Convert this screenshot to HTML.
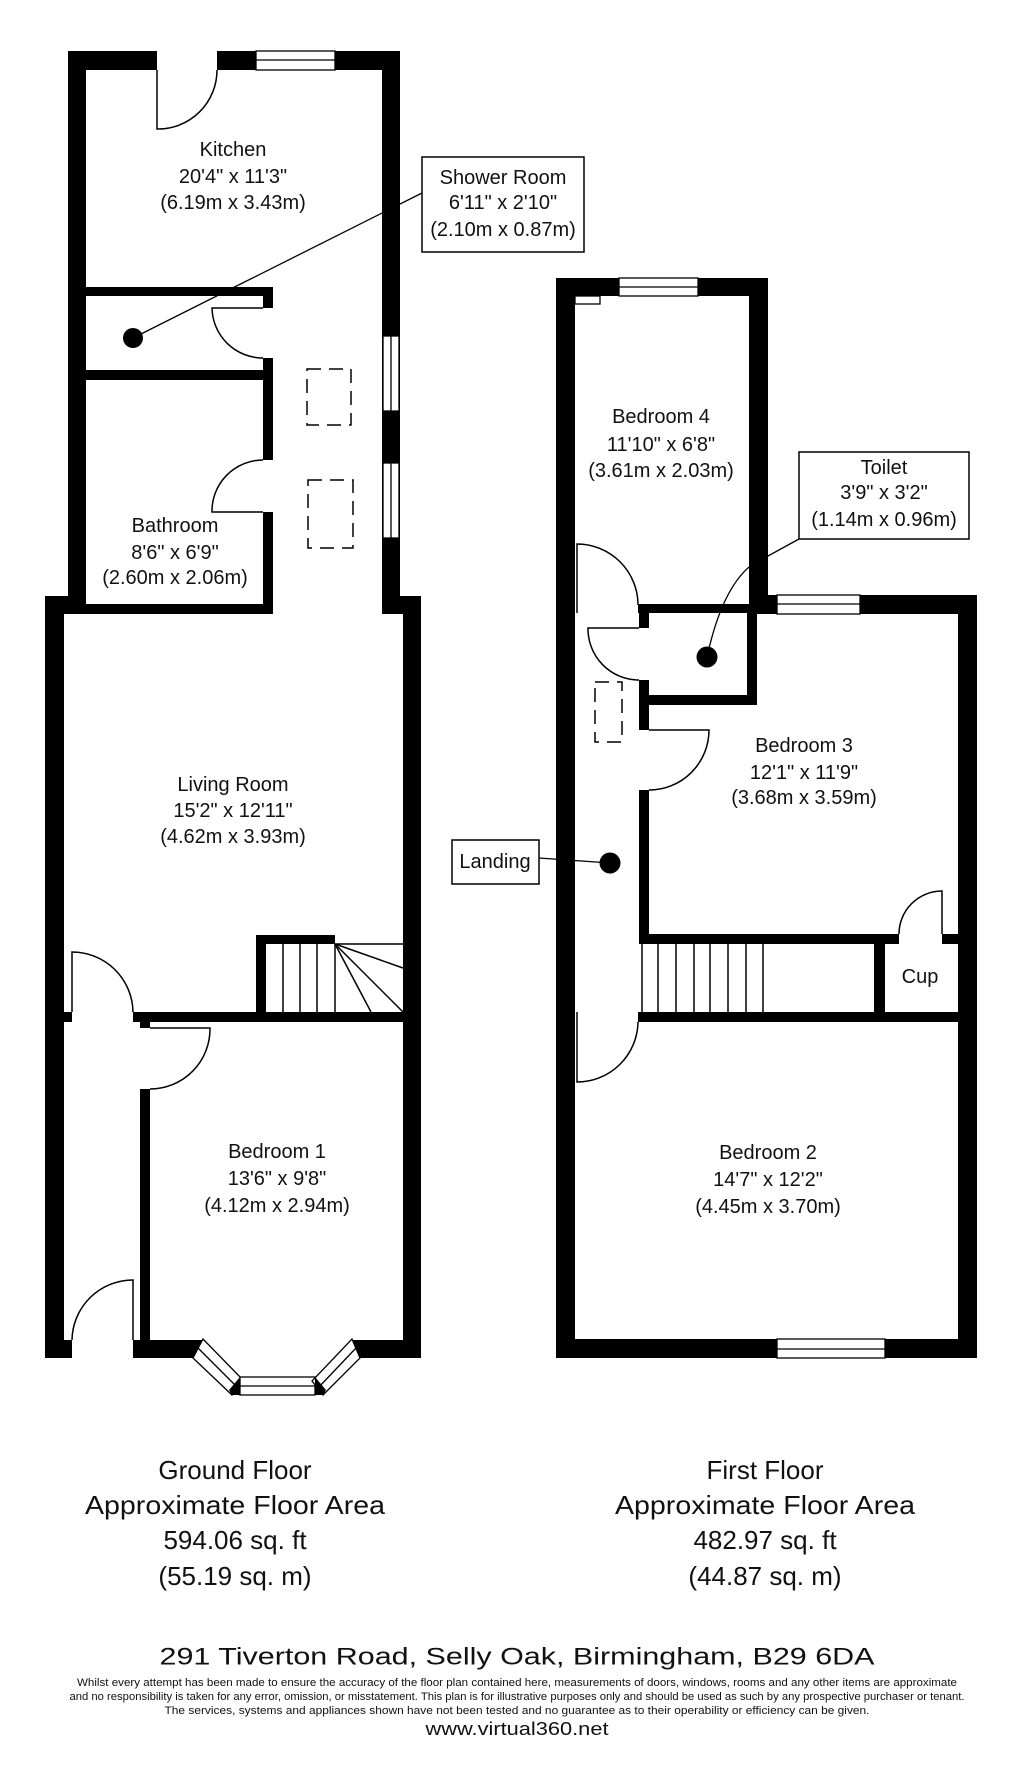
<!DOCTYPE html>
<html><head><meta charset="utf-8"><style>
html,body{margin:0;padding:0;background:#fff;}
svg{display:block;}
text{font-family:"Liberation Sans",Arial,sans-serif;fill:#111;}
</style></head><body>
<svg width="1024" height="1788" viewBox="0 0 1024 1788" xmlns="http://www.w3.org/2000/svg">
<rect width="1024" height="1788" fill="#fff"/>
<g fill="#000">
<!-- Ground floor walls -->
<rect x="68" y="51" width="89" height="19"/>
<rect x="217" y="51" width="183" height="19"/>
<rect x="68" y="51" width="18" height="563"/>
<rect x="382" y="51" width="18" height="563"/>
<rect x="86" y="287" width="187" height="9"/>
<rect x="263" y="287" width="10" height="21"/>
<rect x="263" y="358" width="10" height="102"/>
<rect x="86" y="370" width="187" height="10"/>
<rect x="263" y="512" width="10" height="102"/>
<rect x="68" y="604" width="205" height="10"/>
<rect x="45" y="596" width="41" height="18"/>
<rect x="382" y="596" width="39" height="18"/>
<rect x="45" y="596" width="19" height="762"/>
<rect x="403" y="596" width="18" height="762"/>
<rect x="64" y="1012" width="8" height="10"/>
<rect x="133" y="1012" width="270" height="10"/>
<rect x="256" y="935" width="79" height="9"/>
<rect x="256" y="935" width="10" height="77"/>
<rect x="140" y="1022" width="10" height="6"/>
<rect x="140" y="1089" width="10" height="269"/>
<rect x="45" y="1340" width="27" height="18"/>
<rect x="133" y="1340" width="70" height="18"/>
<rect x="352" y="1340" width="69" height="18"/>
<!-- First floor walls -->
<rect x="556" y="278" width="19" height="1080"/>
<rect x="556" y="278" width="63" height="18"/>
<rect x="698" y="278" width="70" height="18"/>
<rect x="749" y="278" width="19" height="336"/>
<rect x="638" y="604" width="119" height="9"/>
<rect x="639" y="604" width="10" height="24"/>
<rect x="639" y="680" width="10" height="50"/>
<rect x="639" y="790" width="10" height="154"/>
<rect x="639" y="695" width="118" height="10"/>
<rect x="747" y="604" width="10" height="101"/>
<rect x="749" y="595" width="28" height="19"/>
<rect x="860" y="595" width="117" height="19"/>
<rect x="958" y="595" width="19" height="763"/>
<rect x="639" y="934" width="260" height="10"/>
<rect x="942" y="934" width="16" height="10"/>
<rect x="874" y="944" width="11" height="68"/>
<rect x="638" y="1012" width="320" height="10"/>
<rect x="556" y="1339" width="221" height="19"/>
<rect x="885" y="1339" width="92" height="19"/>
</g>
<!-- windows -->
<g fill="#fff" stroke="#000" stroke-width="1.3">
<rect x="256" y="51" width="79" height="19"/><line x1="256" y1="60" x2="335" y2="60"/>
<rect x="383" y="336" width="16" height="75"/><line x1="391" y1="336" x2="391" y2="411"/>
<rect x="383" y="463" width="16" height="75"/><line x1="391" y1="463" x2="391" y2="538"/>
<rect x="619" y="278" width="79" height="18"/><line x1="619" y1="287" x2="698" y2="287"/>
<rect x="777" y="595" width="83" height="19"/><line x1="777" y1="604" x2="860" y2="604"/>
<rect x="777" y="1339" width="108" height="19"/><line x1="777" y1="1349" x2="885" y2="1349"/>
<rect x="575" y="296" width="25" height="8"/>
<!-- bay -->
<polygon points="203,1339 193,1358 232,1395 244,1381"/><line x1="198" y1="1348" x2="238" y2="1388"/>
<rect x="240" y="1377" width="75" height="18"/><line x1="240" y1="1386" x2="315" y2="1386"/>
<polygon points="352,1339 360,1358 323,1395 312,1381"/><line x1="356" y1="1348" x2="318" y2="1388"/>
</g>
<polygon points="229,1390 240,1377 240,1395 232,1395" fill="#000"/>
<polygon points="326,1390 315,1377 315,1395 323,1395" fill="#000"/>
<!-- doors -->
<g fill="none" stroke="#000" stroke-width="1.5">
<path d="M157,70 V129 A59,59 0 0 0 217,70"/>
<path d="M263,308 H212 A51,51 0 0 0 263,358"/>
<path d="M263,512 H212 A51,51 0 0 1 263,460"/>
<path d="M72,1012 V952 A61,61 0 0 1 133,1012"/>
<path d="M150,1028 H210 A60,60 0 0 1 150,1089"/>
<path d="M133,1340 V1280 A61,61 0 0 0 72,1340"/>
<path d="M577,613 V544 A61,61 0 0 1 638,605"/>
<path d="M639,628 H588 A51,51 0 0 0 639,680"/>
<path d="M649,730 H709 A60,60 0 0 1 649,790"/>
<path d="M942,934 V891 A43,43 0 0 0 899,934"/>
<path d="M577,1012 V1082 A61,61 0 0 0 638,1022"/>
<!-- stairs GF -->
<line x1="283" y1="944" x2="283" y2="1012"/><line x1="300" y1="944" x2="300" y2="1012"/>
<line x1="317" y1="944" x2="317" y2="1012"/><line x1="335" y1="944" x2="335" y2="1012"/>
<line x1="335" y1="944" x2="403" y2="944"/><line x1="335" y1="944" x2="403" y2="968"/>
<line x1="335" y1="944" x2="371" y2="1012"/><line x1="335" y1="944" x2="403" y2="1012"/>
<!-- stairs FF -->
<line x1="642" y1="944" x2="642" y2="1012"/><line x1="658" y1="944" x2="658" y2="1012"/>
<line x1="676" y1="944" x2="676" y2="1012"/><line x1="694" y1="944" x2="694" y2="1012"/>
<line x1="710" y1="944" x2="710" y2="1012"/><line x1="728" y1="944" x2="728" y2="1012"/>
<line x1="746" y1="944" x2="746" y2="1012"/><line x1="763" y1="944" x2="763" y2="1012"/>
</g>
<!-- skylights -->
<g fill="none" stroke="#000" stroke-width="1.5" stroke-dasharray="14,8">
<rect x="307" y="369" width="44" height="56"/>
<rect x="308" y="480" width="45" height="68"/>
<rect x="595" y="682" width="27" height="60"/>
</g>
<!-- labels & leaders -->
<g stroke="#000" stroke-width="1.3" fill="none">
<line x1="422" y1="193" x2="133" y2="338"/>
<path d="M799,539 L768,556 Q726,570 707,657"/>
<line x1="539" y1="858" x2="610" y2="863"/>
</g>
<g fill="#000"><circle cx="133" cy="338" r="10"/><circle cx="707" cy="657" r="10.5"/><circle cx="610" cy="863" r="10.5"/></g>
<g fill="#fff" stroke="#000" stroke-width="1.5">
<rect x="422" y="157" width="162" height="95"/>
<rect x="799" y="452" width="170" height="87"/>
<rect x="452" y="840" width="87" height="44"/>
</g>
<g font-size="20" text-anchor="middle" dominant-baseline="central">
<text x="233" y="150">Kitchen</text><text x="233" y="177">20'4" x 11'3"</text><text x="233" y="203">(6.19m x 3.43m)</text>
<text x="503" y="178">Shower Room</text><text x="503" y="203">6'11" x 2'10"</text><text x="503" y="230">(2.10m x 0.87m)</text>
<text x="175" y="526">Bathroom</text><text x="175" y="553">8'6" x 6'9"</text><text x="175" y="578">(2.60m x 2.06m)</text>
<text x="233" y="785">Living Room</text><text x="233" y="811">15'2" x 12'11"</text><text x="233" y="837">(4.62m x 3.93m)</text>
<text x="277" y="1152">Bedroom 1</text><text x="277" y="1179">13'6" x 9'8"</text><text x="277" y="1206">(4.12m x 2.94m)</text>
<text x="661" y="417">Bedroom 4</text><text x="661" y="445">11'10" x 6'8"</text><text x="661" y="471">(3.61m x 2.03m)</text>
<text x="884" y="468">Toilet</text><text x="884" y="493">3'9" x 3'2"</text><text x="884" y="520">(1.14m x 0.96m)</text>
<text x="495" y="862">Landing</text>
<text x="804" y="746">Bedroom 3</text><text x="804" y="773">12'1" x 11'9"</text><text x="804" y="798">(3.68m x 3.59m)</text>
<text x="920" y="977">Cup</text>
<text x="768" y="1153">Bedroom 2</text><text x="768" y="1180">14'7" x 12'2"</text><text x="768" y="1207">(4.45m x 3.70m)</text>
</g>
<g font-size="26" text-anchor="middle" dominant-baseline="central">
<text x="235" y="1470">Ground Floor</text>
<text x="235" y="1505" textLength="300" lengthAdjust="spacingAndGlyphs">Approximate Floor Area</text>
<text x="235" y="1540">594.06 sq. ft</text>
<text x="235" y="1576">(55.19 sq. m)</text>
<text x="765" y="1470">First Floor</text>
<text x="765" y="1505" textLength="300" lengthAdjust="spacingAndGlyphs">Approximate Floor Area</text>
<text x="765" y="1540">482.97 sq. ft</text>
<text x="765" y="1576">(44.87 sq. m)</text>
</g>
<g text-anchor="middle" dominant-baseline="central">
<text x="517" y="1657" font-size="24" textLength="715" lengthAdjust="spacingAndGlyphs">291 Tiverton Road, Selly Oak, Birmingham, B29 6DA</text>
<text x="517" y="1683" font-size="11" textLength="880" lengthAdjust="spacingAndGlyphs">Whilst every attempt has been made to ensure the accuracy of the floor plan contained here, measurements of doors, windows, rooms and any other items are approximate</text>
<text x="517" y="1697" font-size="11" textLength="895" lengthAdjust="spacingAndGlyphs">and no responsibility is taken for any error, omission, or misstatement. This plan is for illustrative purposes only and should be used as such by any prospective purchaser or tenant.</text>
<text x="517" y="1711" font-size="11" textLength="705" lengthAdjust="spacingAndGlyphs">The services, systems and appliances shown have not been tested and no guarantee as to their operability or efficiency can be given.</text>
<text x="517" y="1729" font-size="18" textLength="183" lengthAdjust="spacingAndGlyphs">www.virtual360.net</text>
</g>
</svg>
</body></html>
